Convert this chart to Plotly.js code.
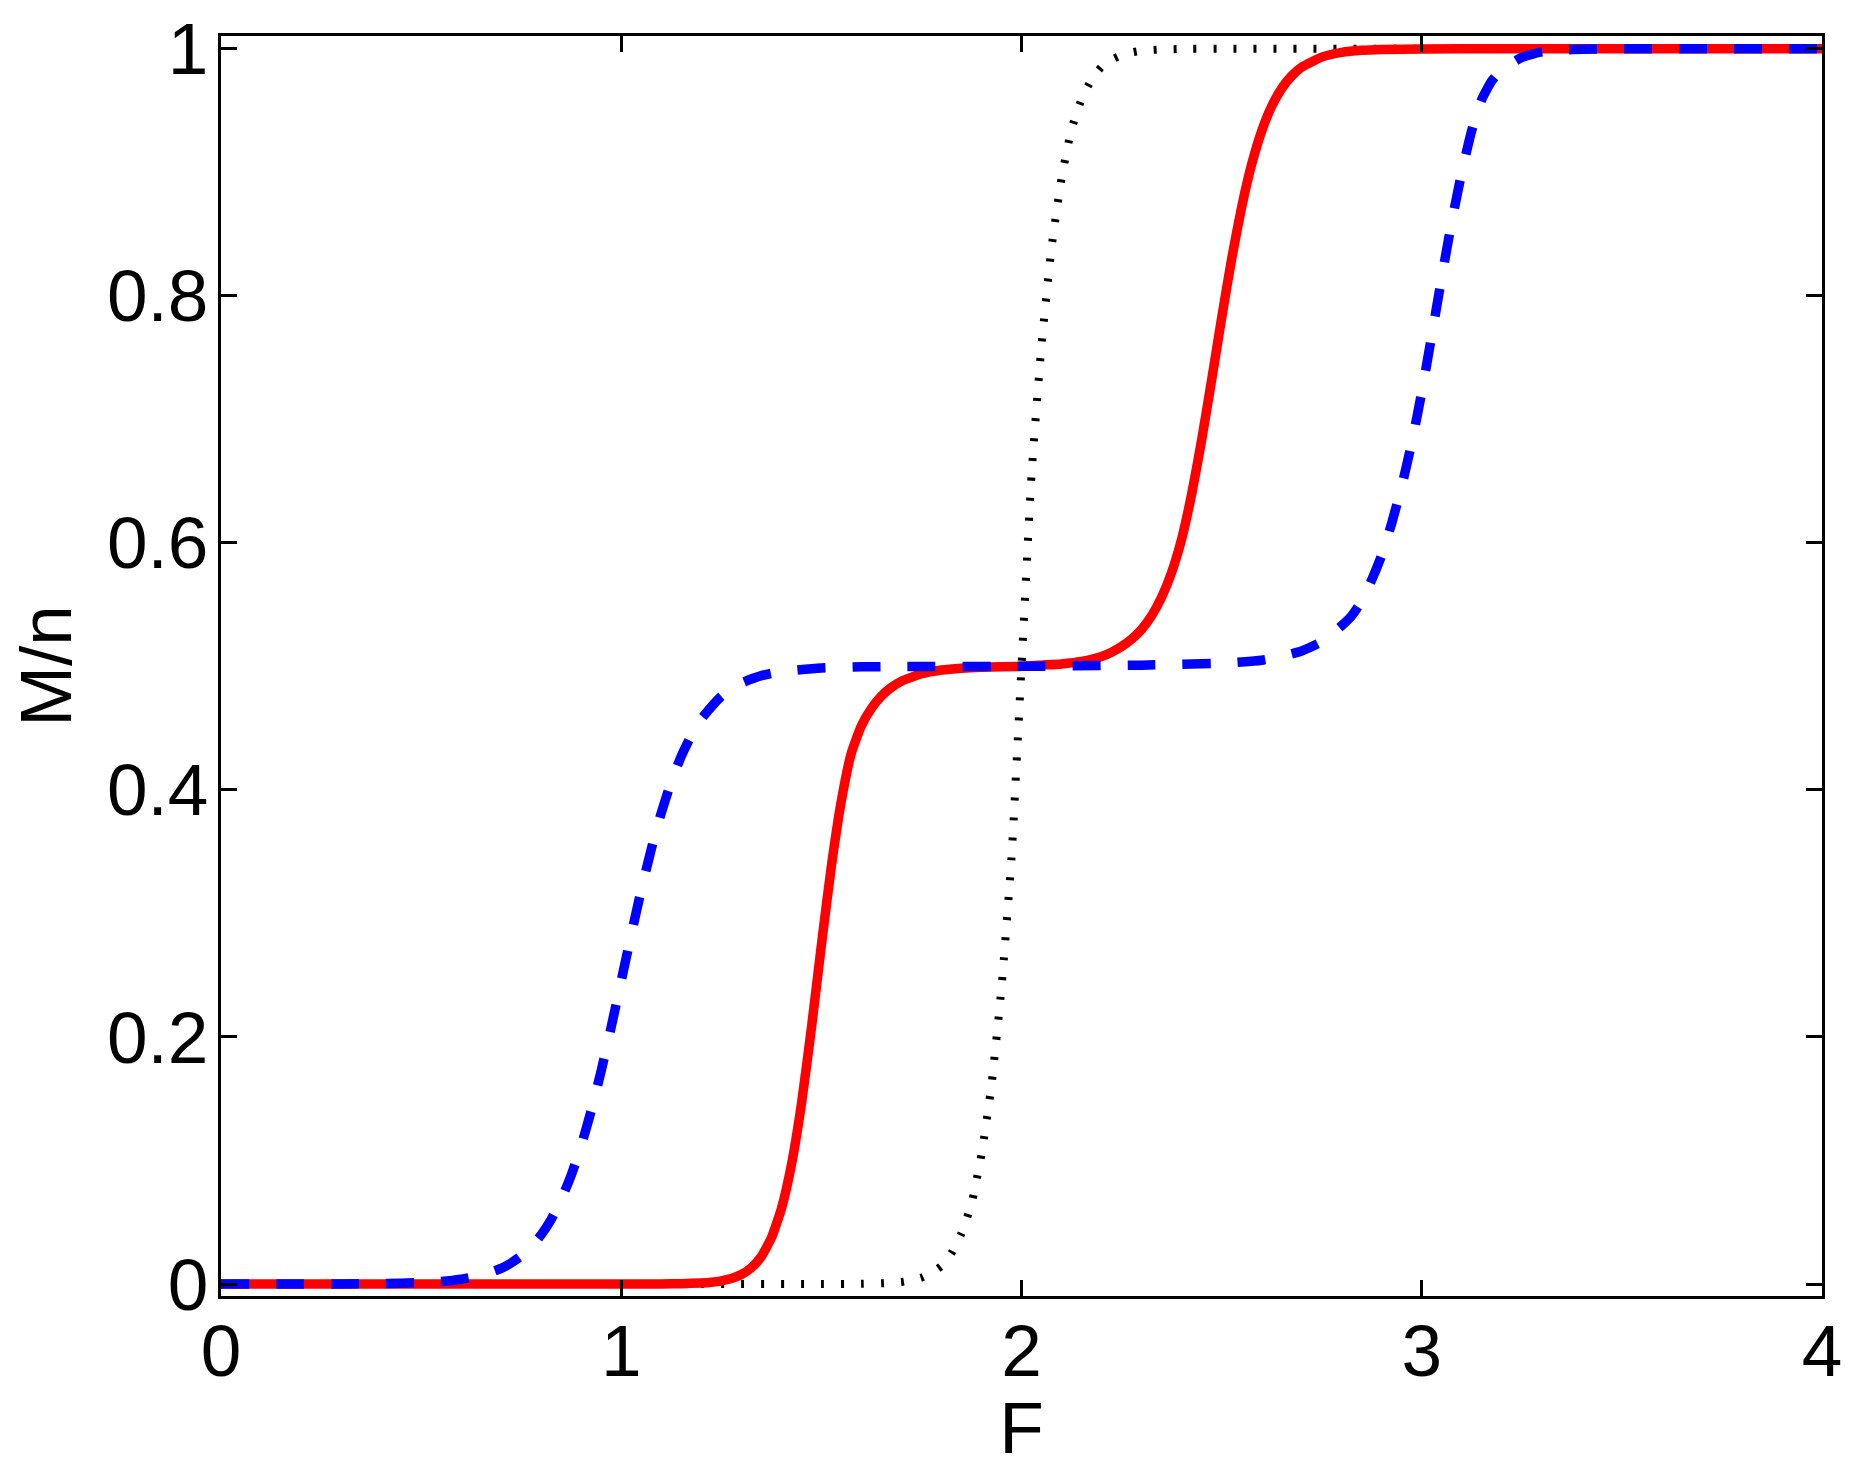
<!DOCTYPE html>
<html>
<head>
<meta charset="utf-8">
<script src="https://cdn.plot.ly/plotly-3.0.1.min.js"></script>
<style>html,body{margin:0;padding:0;background:#fff;}#chart{width:1855px;height:1468px;}</style>
</head>
<body>
<div id="chart"></div>
<script>
// Black dotted curve (single step at F = 2)
const blackF = [0, 1.5, 1.6, 1.65, 1.7, 1.725, 1.75, 1.775, 1.8, 1.825, 1.85, 1.875, 1.9, 1.925, 1.95, 1.975, 2.0, 2.025, 2.05, 2.075, 2.1, 2.125, 2.15, 2.175, 2.2, 2.225, 2.25, 2.275, 2.3, 2.35, 2.4, 2.5, 4.0];
const blackM = [0, 0, 0.0002, 0.0006, 0.0016, 0.003, 0.0052, 0.009, 0.0146, 0.025, 0.041, 0.065, 0.105, 0.161, 0.24, 0.345, 0.5, 0.655, 0.76, 0.839, 0.895, 0.935, 0.959, 0.975, 0.9854, 0.991, 0.9948, 0.997, 0.9984, 0.9994, 0.9998, 1, 1];

// Red solid curve (steps at F = 1.5 and 2.5)
const redF = [0, 1.0, 1.1, 1.15, 1.2, 1.225, 1.25, 1.275, 1.3, 1.325, 1.35, 1.375, 1.4, 1.425, 1.45, 1.475, 1.5, 1.525, 1.55, 1.575, 1.6, 1.625, 1.65, 1.675, 1.7, 1.75, 1.8, 1.85, 1.9, 2.0, 2.05, 2.1, 2.15, 2.2, 2.225, 2.25, 2.275, 2.3, 2.325, 2.35, 2.375, 2.4, 2.425, 2.45, 2.475, 2.5, 2.525, 2.55, 2.575, 2.6, 2.625, 2.65, 2.675, 2.7, 2.75, 2.8, 2.85, 2.9, 3.0, 3.2, 4.0];
const redM = [0, 0, 0.0001, 0.0003, 0.0009, 0.0015, 0.0026, 0.0045, 0.0077, 0.0132, 0.0223, 0.0373, 0.0608, 0.0962, 0.1454, 0.2069, 0.2744, 0.3384, 0.3914, 0.43, 0.452, 0.466, 0.476, 0.483, 0.488, 0.494, 0.497, 0.4985, 0.4993, 0.5, 0.501, 0.502, 0.504, 0.508, 0.5115, 0.516, 0.522, 0.53, 0.541, 0.556, 0.576, 0.603, 0.6393, 0.6832, 0.7319, 0.7821, 0.8298, 0.8718, 0.9064, 0.9333, 0.9534, 0.9678, 0.978, 0.9851, 0.9932, 0.997, 0.9987, 0.9994, 0.9998, 1, 1];

// Blue dashed curve (steps at F = 1 and 3)
const blueF = [0, 0.3, 0.4, 0.5, 0.55, 0.6, 0.65, 0.7, 0.725, 0.75, 0.775, 0.8, 0.825, 0.85, 0.875, 0.9, 0.925, 0.95, 0.975, 1.0, 1.025, 1.05, 1.075, 1.1, 1.125, 1.15, 1.175, 1.2, 1.25, 1.3, 1.35, 1.4, 1.5, 1.6, 1.7, 2.0, 2.2, 2.3, 2.4, 2.5, 2.55, 2.6, 2.65, 2.7, 2.75, 2.8, 2.825, 2.85, 2.875, 2.9, 2.925, 2.95, 2.975, 3.0, 3.025, 3.05, 3.075, 3.1, 3.125, 3.15, 3.175, 3.2, 3.25, 3.3, 3.35, 3.4, 3.5, 4.0];
const blueM = [0, 0.0001, 0.00035, 0.0012, 0.0021, 0.0039, 0.007, 0.0127, 0.017, 0.0227, 0.0301, 0.0399, 0.0524, 0.0683, 0.0881, 0.1121, 0.1404, 0.1728, 0.2082, 0.2455, 0.283, 0.319, 0.3521, 0.3815, 0.4066, 0.4273, 0.444, 0.4574, 0.4757, 0.4864, 0.4925, 0.4958, 0.4987, 0.4996, 0.4999, 0.5, 0.5007, 0.501, 0.5017, 0.5025, 0.5035, 0.505, 0.508, 0.5125, 0.52, 0.533, 0.541, 0.553, 0.57, 0.59, 0.616, 0.646, 0.681, 0.722, 0.768, 0.815, 0.86, 0.9, 0.934, 0.959, 0.974, 0.983, 0.993, 0.9975, 0.999, 0.9995, 1, 1];

const xTicks = [0, 1, 2, 3, 4];
const xTickText = ['0', '1', '2', '3', '4'];
const yTicks = [0, 0.2, 0.4, 0.6, 0.8, 1];
const yTickText = ['0', '0.2', '0.4', '0.6', '0.8', '1'];

const FONT = 'Liberation Sans, Arial, Helvetica, sans-serif';

const traces = [
  {x: blackF, y: blackM, type: 'scatter', mode: 'lines', line: {color: '#000000', width: 8, dash: '3px,17px', shape: 'spline', smoothing: 0.5}, hoverinfo: 'skip'},
  {x: redF, y: redM, type: 'scatter', mode: 'lines', line: {color: '#ff0000', width: 9.5, shape: 'spline', smoothing: 0.5}, hoverinfo: 'skip'},
  {x: blueF, y: blueM, type: 'scatter', mode: 'lines', line: {color: '#0000ff', width: 9.5, dash: '28px,27px', shape: 'spline', smoothing: 0.5}, hoverinfo: 'skip'}
];

const axisCommon = {
  showline: true, linewidth: 3, linecolor: '#000', mirror: 'ticks',
  ticks: 'inside', ticklen: 16, tickwidth: 3, tickcolor: '#000',
  showgrid: false, zeroline: false, automargin: false,
  tickfont: {family: FONT, size: 73, color: '#000'}
};

const layout = {
  width: 1855, height: 1468,
  margin: {l: 221, r: 33, t: 36, b: 172, pad: 0},
  paper_bgcolor: '#fff', plot_bgcolor: '#fff',
  showlegend: false,
  xaxis: Object.assign({}, axisCommon, {
    range: [0, 4], tickmode: 'array', tickvals: xTicks, ticktext: xTickText,
    ticklabelstandoff: -11,
    title: {text: 'F', font: {family: FONT, size: 73, color: '#000'}, standoff: 18}
  }),
  yaxis: Object.assign({}, axisCommon, {
    range: [-0.0097, 1.0103], tickmode: 'array', tickvals: yTicks, ticktext: yTickText,
    ticklabelstandoff: -5,
    title: {text: 'M/n', font: {family: FONT, size: 73, color: '#000'}, standoff: 12}
  })
};

Plotly.newPlot('chart', traces, layout, {staticPlot: true, displayModeBar: false});
</script>
</body>
</html>
